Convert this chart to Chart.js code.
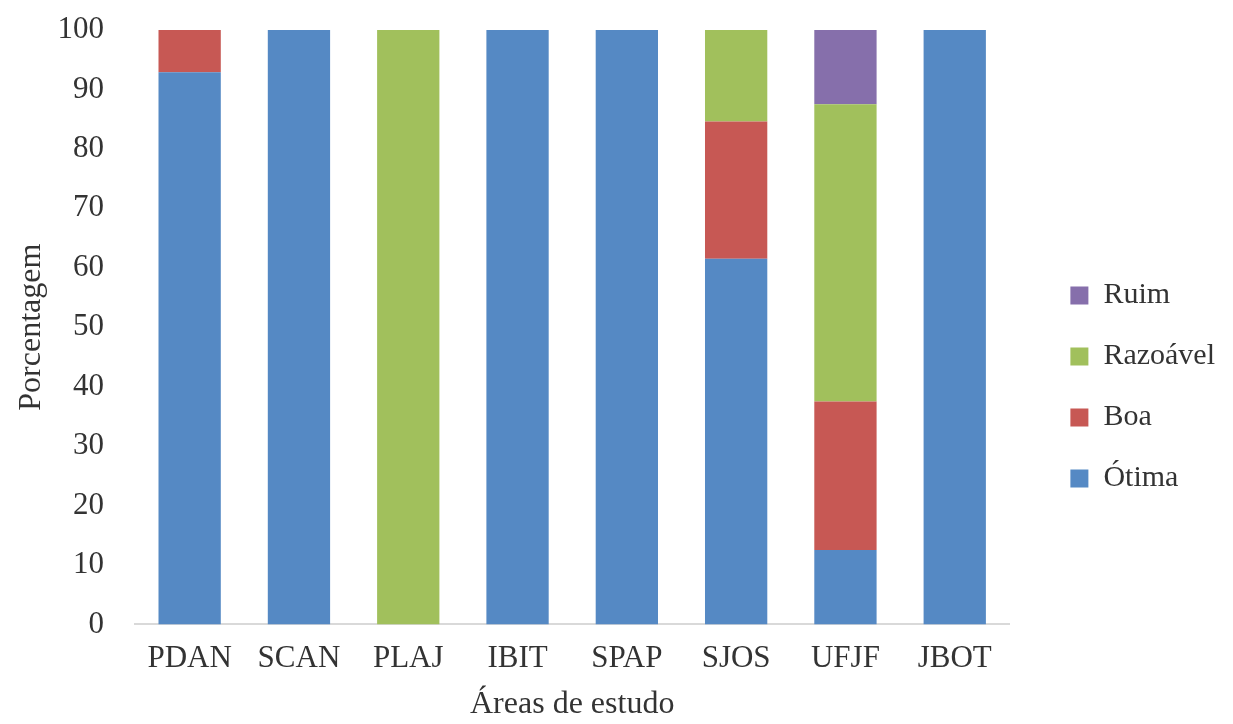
<!DOCTYPE html>
<html>
<head>
<meta charset="utf-8">
<script src="https://cdn.jsdelivr.net/npm/chart.js@4/dist/chart.umd.min.js"></script>
<style>
  html, body { margin: 0; padding: 0; background: #fff; }
  #wrap { width: 1233px; height: 724px; position: relative; }
</style>
</head>
<body>
<div id="wrap"><canvas id="chart"></canvas></div>
<script>
// --- Data ---
const areas = ["PDAN", "SCAN", "PLAJ", "IBIT", "SPAP", "SJOS", "UFJF", "JBOT"];
const otima    = [92.9, 100, 0, 100, 100, 61.5, 12.5, 100];
const boa      = [7.1, 0, 0, 0, 0, 23.1, 25, 0];
const razoavel = [0, 0, 100, 0, 0, 15.4, 50, 0];
const ruim     = [0, 0, 0, 0, 0, 0, 12.5, 0];
const yTicks   = [0, 10, 20, 30, 40, 50, 60, 70, 80, 90, 100];

// --- Style ---
const FONT = "'Liberation Serif', 'Times New Roman', serif";
const TXT = "#333333";

const mk = (label, data, color) => ({
  label: label,
  data: data,
  backgroundColor: color,
  borderColor: color,
  borderWidth: 0,
  barPercentage: 0.57,
  categoryPercentage: 1.0
});

// nudge the legend a bit right/down, like the original layout
const legendNudge = {
  id: "legendNudge",
  afterLayout(chart) {
    const lg = chart.legend;
    if (!lg) return;
    lg.left += 30; lg.right += 30;
    lg.top += 25; lg.bottom += 25;
  }
};

new Chart(document.getElementById("chart"), {
  type: "bar",
  data: {
    labels: areas,
    datasets: [
      mk("Ótima", otima, "#5589c4"),
      mk("Boa", boa, "#c75854"),
      mk("Razoável", razoavel, "#a1c05c"),
      mk("Ruim", ruim, "#866fab")
    ]
  },
  plugins: [legendNudge],
  options: {
    responsive: true,
    maintainAspectRatio: false,
    animation: false,
    layout: { padding: { top: 0, right: 38, bottom: 0, left: 12 } },
    plugins: {
      legend: {
        position: "right",
        reverse: true,
        labels: {
          color: TXT,
          font: { family: FONT, size: 30 },
          boxWidth: 18,
          boxHeight: 18,
          padding: 31
        }
      },
      tooltip: { enabled: false }
    },
    scales: {
      x: {
        stacked: true,
        grid: { display: false },
        border: { display: true, color: "#d9d9d9", width: 2 },
        ticks: { color: TXT, font: { family: FONT, size: 31 }, padding: 8 },
        title: {
          display: true,
          text: "Áreas de estudo",
          color: TXT,
          font: { family: FONT, size: 32 },
          padding: { top: 0, bottom: 0 }
        }
      },
      y: {
        stacked: true,
        min: 0,
        max: 100,
        afterBuildTicks: axis => { axis.ticks = yTicks.map(v => ({ value: v })); },
        afterFit: axis => { axis.width = 123; axis.paddingTop = 30; axis.paddingBottom = 0; },
        grid: { display: false },
        border: { display: false },
        ticks: { color: TXT, font: { family: FONT, size: 31 }, padding: 23 },
        title: {
          display: true,
          text: "Porcentagem",
          color: TXT,
          font: { family: FONT, size: 32 },
          padding: { top: 0, bottom: 0 }
        }
      }
    }
  }
});
</script>
</body>
</html>
